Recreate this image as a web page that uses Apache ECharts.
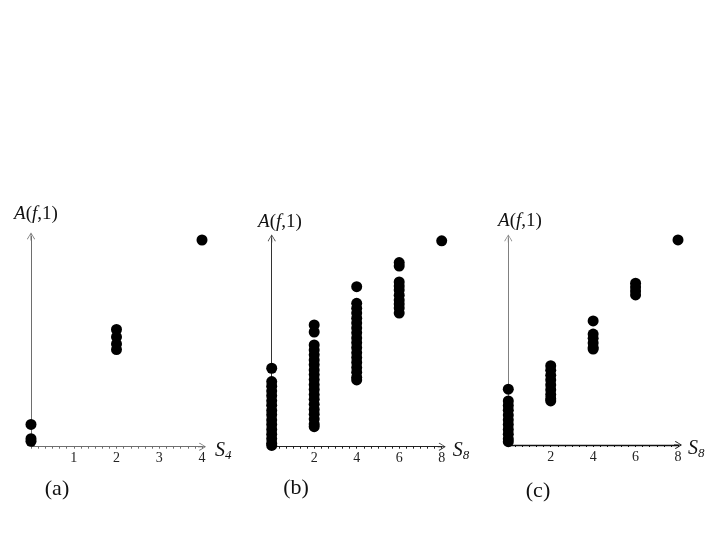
<!DOCTYPE html>
<html><head><meta charset="utf-8">
<script src="https://cdn.jsdelivr.net/npm/echarts@6/dist/echarts.min.js"></script>
<style>html,body{margin:0;padding:0;background:#fff}#c{width:727px;height:545px}</style>
</head><body><div id="c"></div>
<script>
// tick labels
const ticksA = [1, 2, 3, 4];
const ticksB = [2, 4, 6, 8];
const ticksC = [2, 4, 6, 8];
// panel (a): A(f,1) values per S4 column
const a0 = [10.8, 3.9, 2.6];
const a2 = [56.7, 53.1, 49.7, 47.0];
const a4 = [100];
// panel (b)
const b0 = [38.1, 31.6, 29.4, 27.0, 24.8, 22.3, 20.1, 17.6, 15.5, 13.0, 10.8, 8.4, 6.1, 3.9, 1.7, 0.6];
const b2 = [59.1, 55.7, 49.4, 47.0, 44.6, 42.1, 39.8, 37.3, 35.0, 32.6, 30.1, 27.8, 25.3, 23.0, 20.6, 18.1, 15.8, 13.4, 11.0, 9.7];
const b4 = [77.7, 69.6, 67.2, 64.9, 62.4, 60.1, 57.7, 55.3, 52.8, 50.5, 48.1, 45.6, 43.3, 40.9, 38.4, 36.1, 33.7, 32.4];
const b6 = [89.4, 87.7, 80.0, 78.0, 76.1, 73.6, 71.2, 69.3, 67.3, 64.9];
const b8 = [100];
// panel (c)
const c0 = [27.2, 21.5, 19.3, 17.0, 14.6, 12.3, 10.0, 7.6, 5.3, 3.0, 1.6];
const c2 = [38.7, 36.4, 34.0, 31.7, 29.3, 27.0, 24.6, 22.6, 21.5];
const c4 = [60.5, 54.1, 52.0, 49.8, 47.6, 46.8];
const c6 = [78.9, 77.0, 75.1, 73.2];
const c8 = [100];

const serif = '"Liberation Serif", "DejaVu Serif", serif';
const arrow = 'path://M5,0 L10,8 L9.2,8.8 L5.6,2.2 L5.6,10 L4.4,10 L4.4,2.2 L0.8,8.8 L0,8 Z';
function pts(x, arr) { return arr.map(v => [x, v]); }

function xAx(idx, max, interval, ticks, sub, color, gap, lw) {
  return {
    type: 'value', gridIndex: idx, min: 0, max: max, interval: interval,
    splitLine: { show: false },
    axisLine: { show: true, onZero: false, symbol: ['none', arrow], symbolSize: [8, 8],
      lineStyle: { color: color, width: lw } },
    axisTick: { show: true, length: 2, lineStyle: { color: color } },
    minorTick: { show: true, splitNumber: 6, length: 2, lineStyle: { color: color } },
    axisLabel: { show: true, margin: 5, fontFamily: serif, fontSize: 14, color: '#222',
      formatter: v => (ticks.indexOf(v) >= 0 ? String(v) : '') },
    name: '{s|S}{sub|' + sub + '}', nameLocation: 'end', nameGap: gap,
    nameTextStyle: { padding: [8, 0, 0, 0], rich: {
      s: { fontFamily: serif, fontStyle: 'italic', fontSize: 20, color: '#111' },
      sub: { fontFamily: serif, fontStyle: 'italic', fontSize: 13, color: '#111', padding: [10, 0, 0, 0] }
    } }
  };
}
function yAx(idx, max, color) {
  return {
    type: 'value', gridIndex: idx, min: 0, max: max,
    splitLine: { show: false }, axisTick: { show: false }, axisLabel: { show: false },
    axisLine: { show: true, onZero: false, symbol: ['none', arrow], symbolSize: [8, 8],
      lineStyle: { color: color, width: 1 } }
  };
}
function sc(idx, data) {
  return { type: 'scatter', xAxisIndex: idx, yAxisIndex: idx, data: data, symbol: 'circle',
    symbolSize: 11, itemStyle: { color: '#000', opacity: 1, borderWidth: 0 }, silent: true, animation: false, z: 5 };
}
function lab(x, y, text, size) {
  return { type: 'text', x: x, y: y, style: { text: text, fontFamily: serif, fontSize: size, fill: '#111',
    align: 'center', verticalAlign: 'middle' } };
}
function alab(x, y) {
  return { type: 'text', x: x, y: y, style: { text: '{i|A}({i|f},1)', align: 'center', verticalAlign: 'middle',
    fontFamily: serif, fontSize: 19, fill: '#111',
    rich: { i: { fontFamily: serif, fontStyle: 'italic', fontSize: 19, fill: '#111' } } } };
}

const chart = echarts.init(document.getElementById('c'), null, { renderer: 'canvas' });
chart.setOption({
  backgroundColor: '#fff',
  animation: false,
  grid: [
    { left: 31, top: 236.5, width: 171, height: 210.2 },
    { left: 271.7, top: 238.5, width: 170, height: 208.2 },
    { left: 508.3, top: 238.5, width: 169.7, height: 206.5 }
  ],
  xAxis: [
    xAx(0, 4, 1, ticksA, '4', '#6e6e6e', 13, 1),
    xAx(1, 8, 2, ticksB, '8', '#222', 11, 1),
    xAx(2, 8, 2, ticksC, '8', '#111', 10, 1.3)
  ],
  yAxis: [ yAx(0, 101.7, '#6e6e6e'), yAx(1, 101.1, '#333'), yAx(2, 100.7, '#808080') ],
  series: [
    sc(0, [].concat(pts(0, a0), pts(2, a2), pts(4, a4))),
    sc(1, [].concat(pts(0, b0), pts(2, b2), pts(4, b4), pts(6, b6), pts(8, b8))),
    sc(2, [].concat(pts(0, c0), pts(2, c2), pts(4, c4), pts(6, c6), pts(8, c8)))
  ],
  graphic: [
    alab(36, 214), alab(280, 222), alab(520, 221),
    lab(57, 489, '(a)', 22), lab(296, 488, '(b)', 22), lab(538, 491, '(c)', 22)
  ]
});
</script></body></html>
